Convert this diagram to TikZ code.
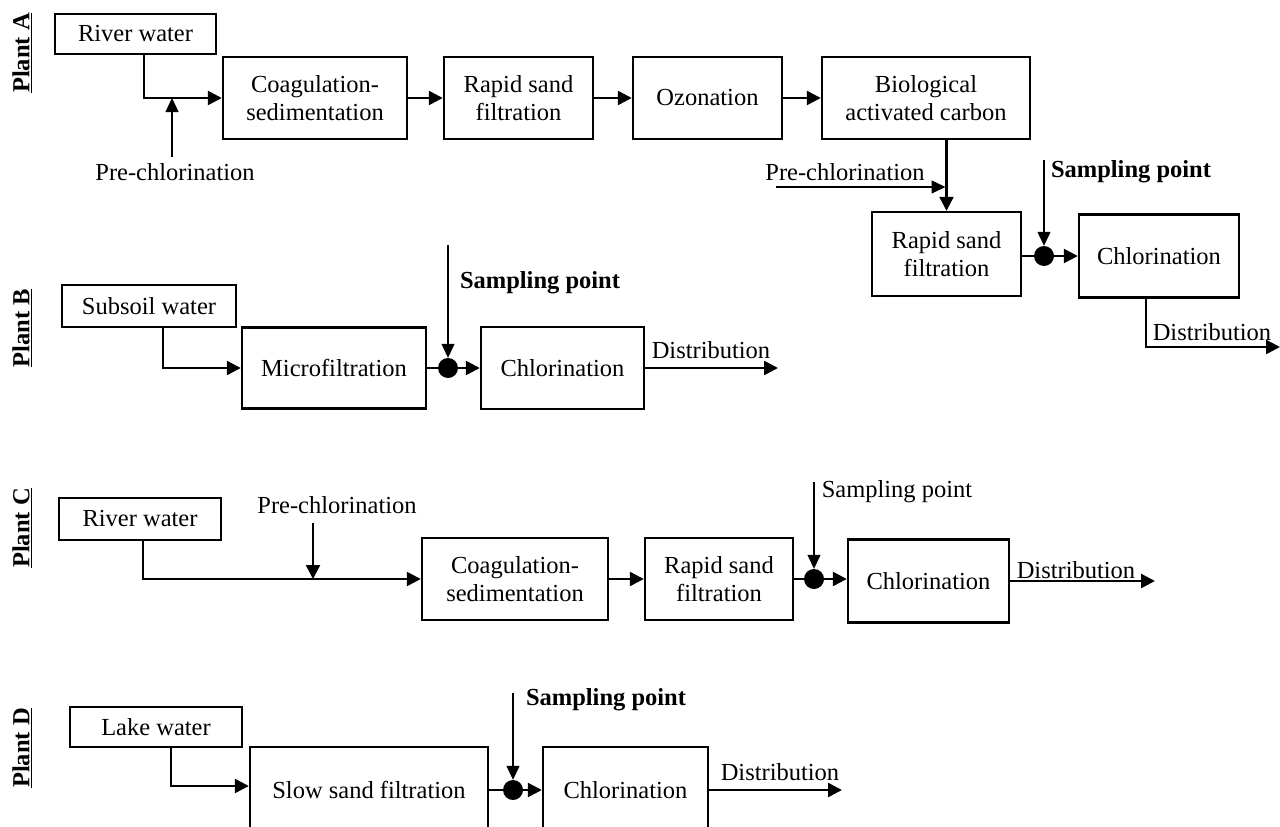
\documentclass[tikz,border=0pt]{standalone}
\usepackage{fontspec}
\setmainfont{Liberation Serif}
\usetikzlibrary{arrows.meta}
\begin{document}
\begin{tikzpicture}[x=1pt,y=-1pt,
 proc/.style={draw, line width=2.4pt, inner sep=0pt, align=center, font=\fontsize{24.5}{28}\selectfont},
 lbl/.style={inner sep=0pt, font=\fontsize{24.5}{28}\selectfont},
 blbl/.style={inner sep=0pt, font=\fontsize{24.5}{28}\selectfont\bfseries},
 plant/.style={inner sep=0pt, rotate=90, font=\fontsize{24.5}{28}\selectfont\bfseries},
 flow/.style={line width=2.4pt, -{Triangle[length=14pt,width=14pt]}},
 thinflow/.style={line width=1.2pt, -{Triangle[length=14pt,width=13pt]}},
 pipe/.style={line width=2.4pt},
 spot/.style={circle, fill=black, inner sep=0pt, minimum size=20pt},
]
\useasboundingbox (0,0) rectangle (1280,827);
\clip (0,0) rectangle (1280,827);

% ---------------- Plant A ----------------
\node[plant] (pA) at (22,53) {\underline{Plant A}};
\node[proc, minimum width=161pt, minimum height=40pt] (rwA) at (135.5,34) {River water};
\node[proc, minimum width=184pt, minimum height=82pt] (coagA) at (315,98) {Coagulation-\\sedimentation};
\node[proc, minimum width=149pt, minimum height=82pt] (rsfA) at (518.5,98) {Rapid sand\\filtration};
\node[proc, minimum width=149pt, minimum height=82pt] (ozoA) at (707.5,98) {Ozonation};
\node[proc, minimum width=208pt, minimum height=82pt] (bacA) at (926,98) {Biological\\activated carbon};
\node[proc, minimum width=149pt, minimum height=84pt] (rsf2A) at (946.5,254) {Rapid sand\\filtration};
\node[proc, minimum width=160pt, minimum height=83pt] (chlA) at (1159,256) {Chlorination};
\node[spot] (dotA) at (1044,256) {};
\node[lbl] (pcA1) at (175,172) {Pre-chlorination};
\node[lbl] (pcA2) at (845,172) {Pre-chlorination};
\node[blbl] (spA) at (1131,172) {Sampling point};
\node[lbl] (dsA) at (1212,332) {Distribution};

\coordinate (jA) at (144,98);
\draw[flow] (jA |- rwA.south) -- (jA) -- (coagA.west);
\coordinate (pcA1s) at (172,157);
\draw[thinflow] (pcA1s) -- (pcA1s |- jA);
\draw[flow] (coagA) -- (rsfA);
\draw[flow] (rsfA) -- (ozoA);
\draw[flow] (ozoA) -- (bacA);
\draw[flow] (rsf2A.north |- bacA.south) -- (rsf2A.north);
\coordinate (pcA2s) at (776,187);
\draw[thinflow] (pcA2s) -- ([xshift=-1pt]rsf2A.north |- pcA2s);
\coordinate (spAs) at (1044,160);
\draw[thinflow] (spAs) -- (dotA.north);
\draw[pipe] (rsf2A.east |- dotA) -- (dotA);
\draw[flow] (dotA) -- (chlA.west |- dotA);
\coordinate (dA) at (1146,347);
\coordinate (dAe) at (1280,347);
\draw[flow] (dA |- chlA.south) -- (dA) -- (dAe);

% ---------------- Plant B ----------------
\node[plant] (pB) at (22,328) {\underline{Plant B}};
\node[proc, minimum width=174pt, minimum height=42pt] (ssB) at (149,306) {Subsoil water};
\node[proc, minimum width=184pt, minimum height=81pt] (mfB) at (334,368) {Microfiltration};
\node[spot] (dotB) at (448,368) {};
\node[proc, minimum width=163pt, minimum height=82pt] (chlB) at (562.5,368) {Chlorination};
\node[blbl] (spB) at (540,283) {Sampling point};
\node[lbl] (dsB) at (711,350) {Distribution};

\coordinate (jB) at (163,368);
\draw[flow] (jB |- ssB.south) -- (jB) -- (mfB.west);
\coordinate (spBs) at (448,245);
\draw[thinflow] (spBs) -- (dotB.north);
\draw[pipe] (mfB.east) -- (dotB);
\draw[flow] (dotB) -- (chlB.west);
\coordinate (dBe) at (778,368);
\draw[flow] (chlB.east) -- (dBe);

% ---------------- Plant C ----------------
\node[plant] (pC) at (22,528) {\underline{Plant C}};
\node[proc, minimum width=162pt, minimum height=42pt] (rwC) at (140,519) {River water};
\node[proc, minimum width=186pt, minimum height=82pt] (coagC) at (515,579) {Coagulation-\\sedimentation};
\node[proc, minimum width=148pt, minimum height=82pt] (rsfC) at (719,579) {Rapid sand\\filtration};
\node[spot] (dotC) at (814,579) {};
\node[proc, minimum width=161pt, minimum height=83pt] (chlC) at (928.5,581) {Chlorination};
\node[lbl] (pcC) at (337,505) {Pre-chlorination};
\node[lbl] (spC) at (897,492) {Sampling point};
\node[lbl] (dsC) at (1076,570) {Distribution};

\coordinate (jC) at (143,579);
\draw[flow] (jC |- rwC.south) -- (jC) -- (coagC.west);
\coordinate (pcCs) at (313,523);
\draw[flow] (pcCs) -- (pcCs |- jC);
\draw[flow] (coagC) -- (rsfC);
\draw[pipe] (rsfC.east) -- (dotC);
\draw[flow] (dotC) -- (chlC.west |- dotC);
\coordinate (spCs) at (814,482);
\draw[thinflow] (spCs) -- (dotC.north);
\coordinate (dCe) at (1155,581);
\draw[flow] (chlC.east) -- (dCe);

% ---------------- Plant D ----------------
\node[plant] (pD) at (22,748) {\underline{Plant D}};
\node[proc, minimum width=172pt, minimum height=40pt] (lwD) at (156,727) {Lake water};
\node[proc, minimum width=238pt, minimum height=86pt] (ssD) at (369,790) {Slow sand filtration};
\node[spot] (dotD) at (513,790) {};
\node[proc, minimum width=165pt, minimum height=86pt] (chlD) at (625.5,790) {Chlorination};
\node[blbl] (spD) at (606,700) {Sampling point};
\node[lbl] (dsD) at (780,772) {Distribution};

\coordinate (jD) at (171,786);
\draw[flow] (jD |- lwD.south) -- (jD) -- (jD -| ssD.west);
\draw[pipe] (ssD.east) -- (dotD);
\draw[flow] (dotD) -- (chlD.west);
\coordinate (spDs) at (513,693);
\draw[thinflow] (spDs) -- (dotD.north);
\coordinate (dDe) at (842,790);
\draw[flow] (chlD.east) -- (dDe);
\end{tikzpicture}
\end{document}
